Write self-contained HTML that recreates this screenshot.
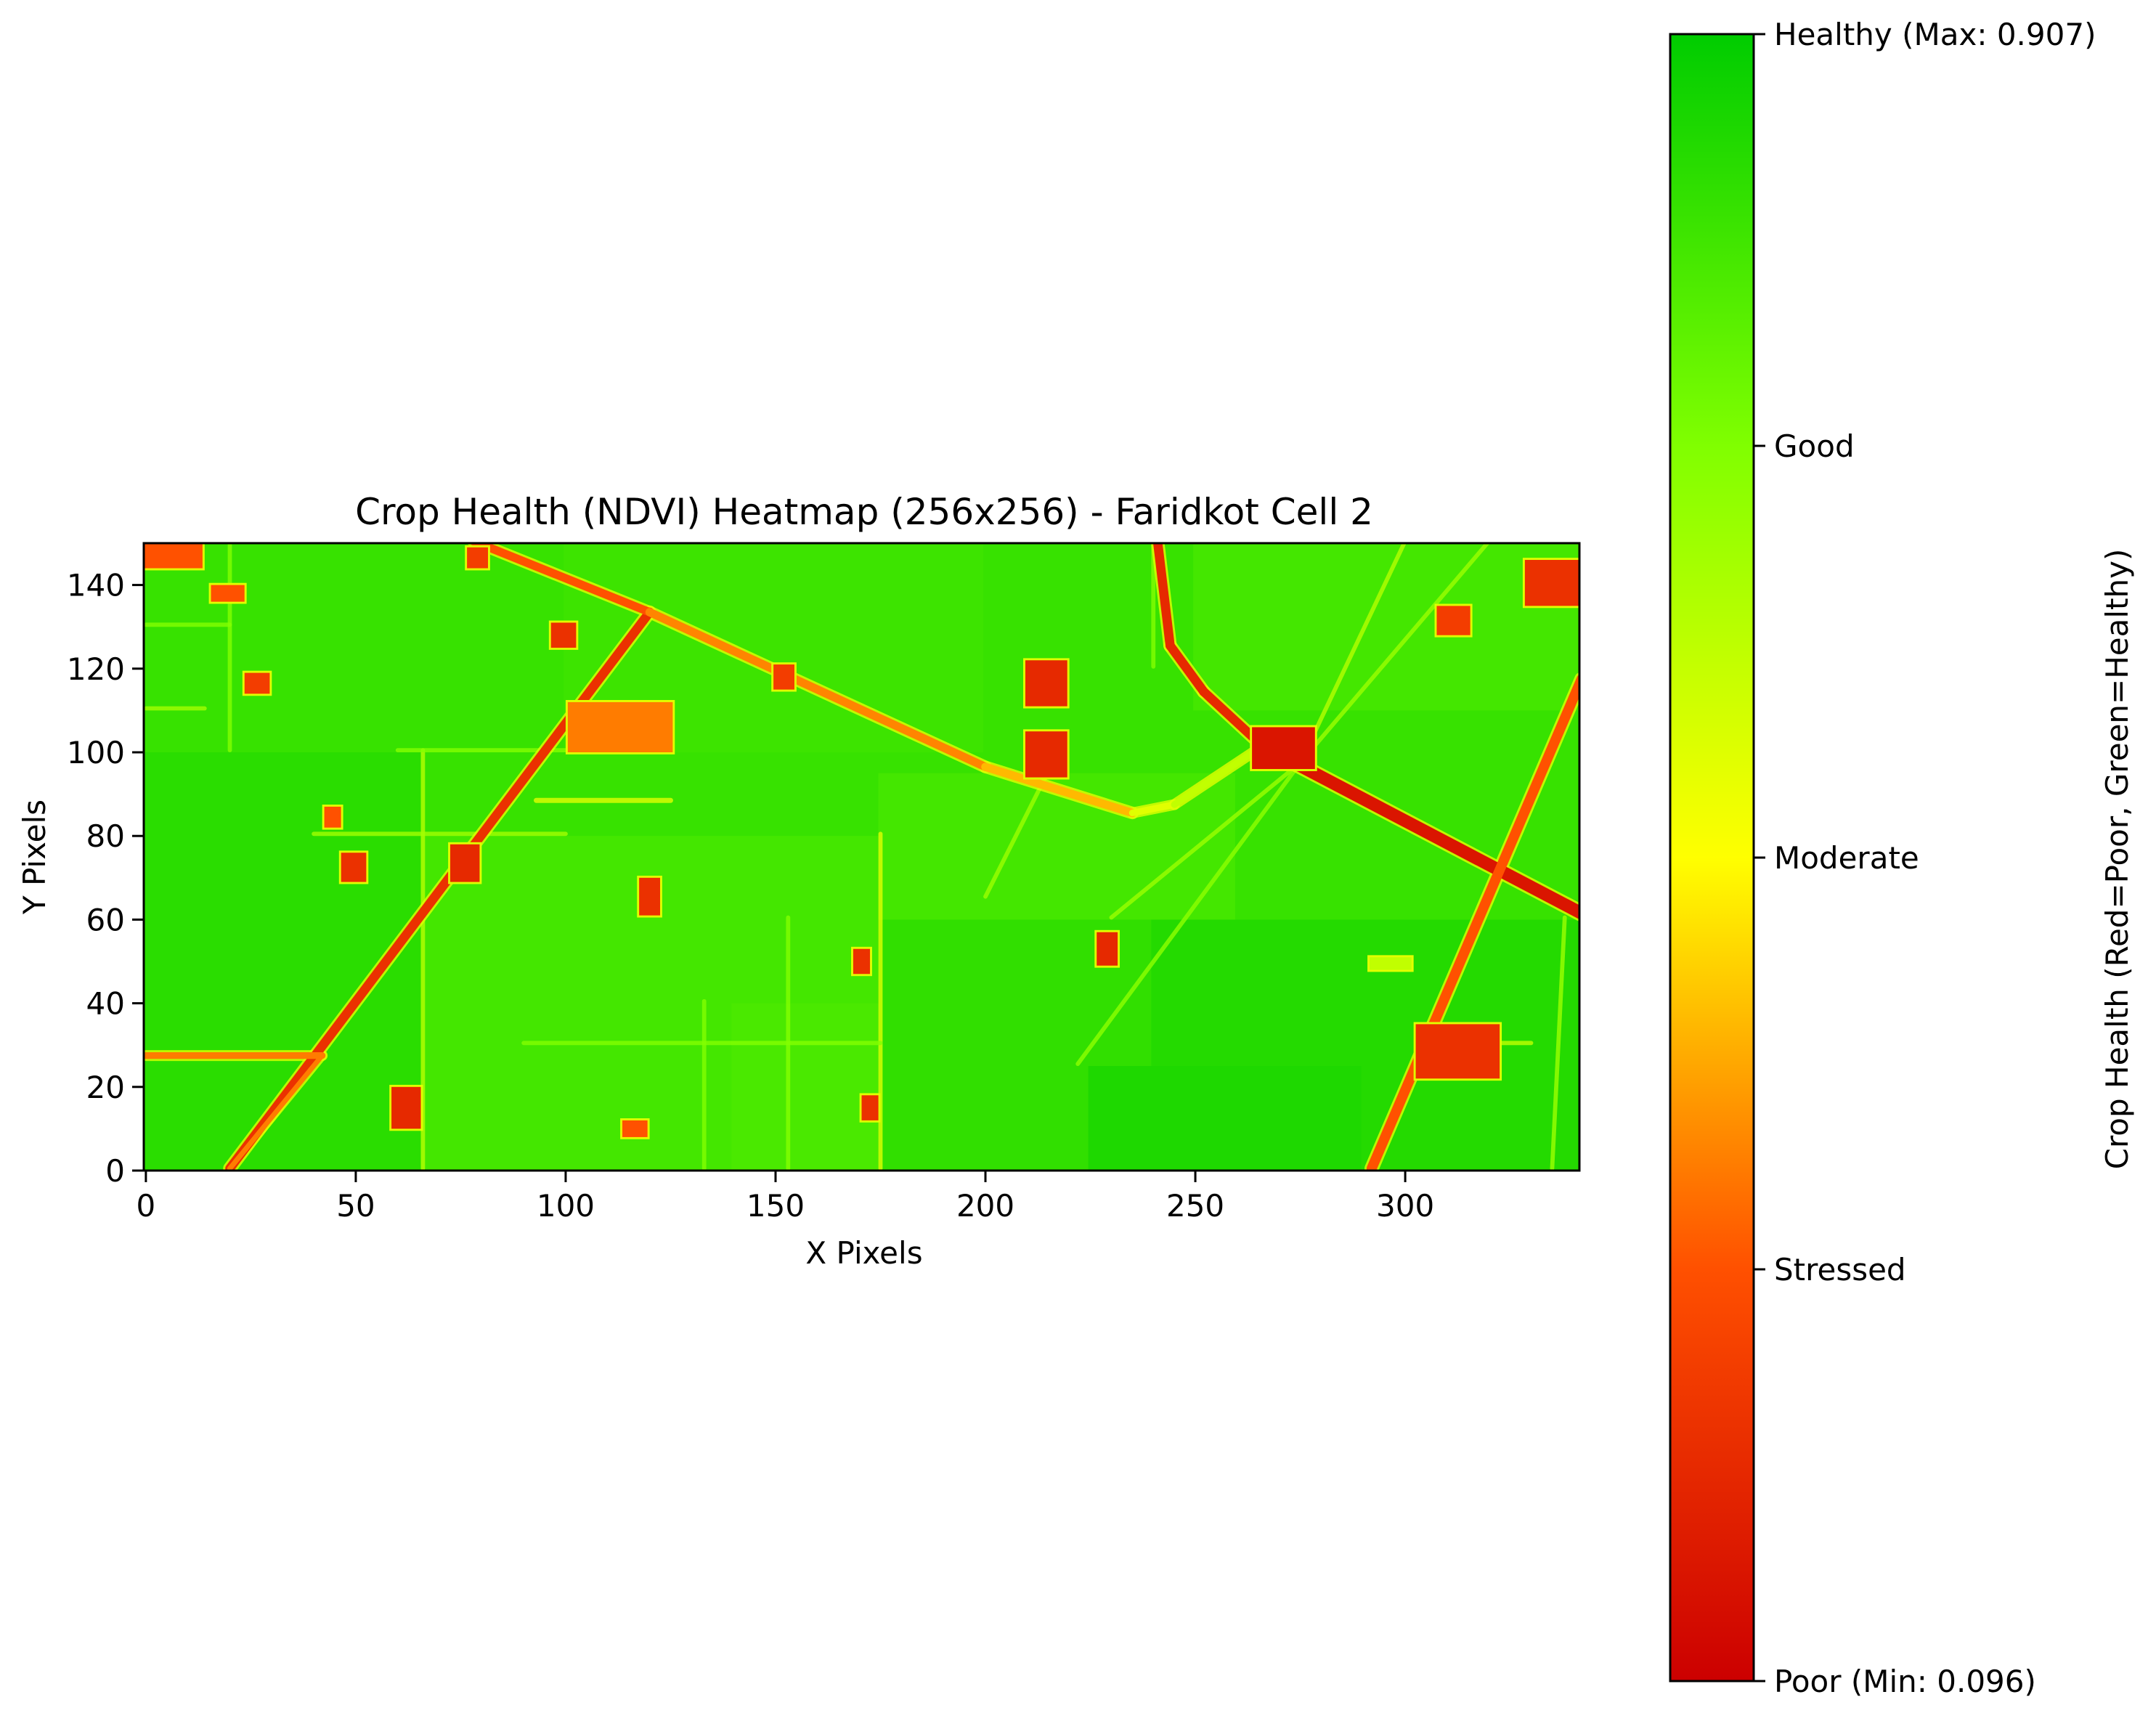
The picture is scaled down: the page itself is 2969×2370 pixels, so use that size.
<!DOCTYPE html>
<html><head><meta charset="utf-8"><title>Crop Health Heatmap</title>
<style>html,body{margin:0;padding:0;background:#fff}svg{display:block}text{font-family:"DejaVu Sans","Liberation Sans",sans-serif;fill:#000}</style>
</head><body>
<svg id="chart" width="2969" height="2370" viewBox="0 0 2969 2370" xmlns="http://www.w3.org/2000/svg">
<defs>
<linearGradient id="cbgrad" x1="0" y1="1" x2="0" y2="0">
<stop offset="0" stop-color="#cc0000"/><stop offset="0.25" stop-color="#ff5000"/><stop offset="0.5" stop-color="#ffff00"/><stop offset="0.75" stop-color="#80ff00"/><stop offset="1" stop-color="#00cc00"/>
</linearGradient>
<clipPath id="plotclip"><rect x="198" y="748" width="1977" height="864"/></clipPath>
</defs>
<text x="1190" y="722" font-size="50" text-anchor="middle">Crop Health (NDVI) Heatmap (256x256) - Faridkot Cell 2</text>
<rect x="198" y="748" width="1977" height="864" fill="#2fd800"/>
<g id="heat" clip-path="url(#plotclip)"></g>
<rect x="198" y="748" width="1977" height="864" fill="none" stroke="#000" stroke-width="3"/>
<g id="xticks"></g>
<g id="yticks"></g>
<text x="1190" y="1740" font-size="42" text-anchor="middle">X Pixels</text>
<text x="0" y="0" font-size="42" text-anchor="middle" transform="translate(62,1180) rotate(-90)">Y Pixels</text>
<rect x="2300" y="47" width="115" height="2268" fill="url(#cbgrad)" stroke="#000" stroke-width="3"/>
<g id="cbticks"></g>
<text x="0" y="0" font-size="42" text-anchor="middle" transform="translate(2930,1183) rotate(-90)">Crop Health (Red=Poor, Green=Healthy)</text>
</svg>
<script>
// ---- data (NDVI values, data coordinates) ----
const vmin = 0.096, vmax = 0.907;
const baseValue = 0.82;
const xTicks = [0, 50, 100, 150, 200, 250, 300];
const yTicks = [0, 20, 40, 60, 80, 100, 120, 140];
const cbLabels = ["Poor (Min: 0.096)", "Stressed", "Moderate", "Good", "Healthy (Max: 0.907)"];
// field patches: [x0, y0, x1, y1, ndvi]
const fields = [
 [0,0,66,100,0.84],[66,0,175,80,0.80],[175,0,240,60,0.83],[240,0,342,60,0.85],
 [100,100,200,150,0.81],[250,110,342,150,0.80],[0,100,100,150,0.82],[175,60,260,95,0.80],
 [225,0,290,25,0.86],[140,0,175,40,0.79],[300,60,342,100,0.82]
];
// thin boundaries: [x0, y0, x1, y1, widthUnits, ndvi]
const lines = [
 [66,0,66,100,1,0.62],[40,80,100,80,1,0.65],[175,0,175,80,1,0.55],[93,88,125,88,1.2,0.55],
 [275,97,230,60,1,0.66],[275,97,222,25,1,0.68],[275,97,300,150,1,0.62],[275,97,320,150,1,0.66],
 [200,65,215,95,1,0.66],[0,130,20,130,1,0.7],[153,0,153,60,1,0.7],[133,0,133,40,1,0.7],
 [0,110,14,110,1,0.65],[240,120,240,150,1,0.7],[20,100,20,150,1,0.7],[310,30,330,30,1,0.6],
 [105,100,60,100,1,0.7],[90,30,175,30,1,0.7],[335,0,338,60,1,0.66]
];
// roads: [x0, y0, x1, y1, widthUnits, ndvi]
const roads = [
 [20,0,120,133,2.2,0.22],[78,150,120,133,2,0.3],[120,133,200,96,2,0.36],[200,96,235,85,2,0.42],
 [235,85,245,87,1.6,0.55],[245,87,266,101,1.6,0.6],[241,150,244,125,2.2,0.2],[244,125,252,114,2.2,0.2],
 [252,114,266,101,2.2,0.2],[266,101,342,61,3,0.15],[292,0,342,117,2.4,0.3],[0,27,42,27,1.6,0.35],
 [42,27,20,0,1.2,0.35]
];
// patches: [x0, y0, x1, y1, ndvi]
const patches = [
 [210,111,220,122,0.2],[210,94,220,105,0.2],[101,100,126,112,0.35],[0,144,14,150,0.3],
 [329,135,342,146,0.22],[303,22,323,35,0.22],[227,49,232,57,0.2],[59,10,66,20,0.2],
 [169,47,173,53,0.22],[118,61,123,70,0.22],[97,125,103,131,0.22],[24,114,30,119,0.25],
 [47,69,53,76,0.22],[73,69,80,78,0.2],[308,128,316,135,0.25],[171,12,175,18,0.22],
 [77,144,82,149,0.25],[150,115,155,121,0.25],[264,96,279,106,0.15],[16,136,24,140,0.3],
 [43,82,47,87,0.3],[114,8,120,12,0.3],[292,48,302,51,0.6]
];
// ---- axis functions ----
const X0=198, Y0=1612, SX=1977/342, SY=864/150;
function sx(x){return X0+(x+0.5)*SX;}
function sy(y){return Y0-(y+0.5)*SY;}
function cmap(v){
 const t=Math.max(0,Math.min(1,(v-vmin)/(vmax-vmin)));
 const st=[[0,[204,0,0]],[0.25,[255,80,0]],[0.5,[255,255,0]],[0.75,[128,255,0]],[1,[0,204,0]]];
 for(let i=0;i<st.length-1;i++){const a=st[i],b=st[i+1];if(t<=b[0]){const f=(t-a[0])/(b[0]-a[0]);
  const c=a[1].map((q,k)=>Math.round(q+(b[1][k]-q)*f));return `rgb(${c[0]},${c[1]},${c[2]})`;}}
 return 'rgb(0,204,0)';
}
const NS='http://www.w3.org/2000/svg';
const heat=document.getElementById('heat');
function rect(x0,y0,x1,y1,v,name){
 const r=document.createElementNS(NS,'rect');
 r.setAttribute('x',sx(x0-0.5));r.setAttribute('y',sy(y1-0.5));
 r.setAttribute('width',(x1-x0)*SX);r.setAttribute('height',(y1-y0)*SY);
 r.setAttribute('fill',cmap(v));
 
 
 heat.appendChild(r);
}
function seg(s,name,op){
 const l=document.createElementNS(NS,'line');
 l.setAttribute('x1',sx(s[0]));l.setAttribute('y1',sy(s[1]));l.setAttribute('x2',sx(s[2]));l.setAttribute('y2',sy(s[3]));
 l.setAttribute('stroke',cmap(s[5]));l.setAttribute('stroke-width',s[4]*SX);l.setAttribute('stroke-linecap','round');
 if(op) l.setAttribute('stroke-opacity',op);
 
 
 heat.appendChild(l);
}
rect(-2,-2,344,152,baseValue,'base-field');
fields.forEach(f=>rect(f[0],f[1],f[2],f[3],f[4],'field-patch'));
lines.forEach(s=>seg(s,'field-boundary',0.8));
roads.forEach(s=>{
 seg([s[0],s[1],s[2],s[3],s[4]+1.0,0.55],'road-edge',0.8);
});
roads.forEach(s=>seg(s,'road'));
patches.forEach(p=>{
 rect(p[0]-0.5,p[1]-0.5,p[2]+0.5,p[3]+0.5,0.55,'patch-edge');
 rect(p[0],p[1],p[2],p[3],p[4],'stressed-patch');
});
// ---- ticks ----
const xt=document.getElementById('xticks');
xTicks.forEach(v=>{
 const l=document.createElementNS(NS,'line');
 l.setAttribute('x1',sx(v));l.setAttribute('x2',sx(v));l.setAttribute('y1',1612);l.setAttribute('y2',1628);
 l.setAttribute('stroke','#000');l.setAttribute('stroke-width',3);
 
 
 xt.appendChild(l);
 const t=document.createElementNS(NS,'text');
 t.setAttribute('x',sx(v));t.setAttribute('y',1675);t.setAttribute('font-size',42);t.setAttribute('text-anchor','middle');
 t.textContent=v;
 
 
 xt.appendChild(t);
});
const yt=document.getElementById('yticks');
yTicks.forEach(v=>{
 const l=document.createElementNS(NS,'line');
 l.setAttribute('x1',182);l.setAttribute('x2',198);l.setAttribute('y1',sy(v)+SY/2);l.setAttribute('y2',sy(v)+SY/2);
 l.setAttribute('stroke','#000');l.setAttribute('stroke-width',3);
 
 
 yt.appendChild(l);
 const t=document.createElementNS(NS,'text');
 t.setAttribute('x',172);t.setAttribute('y',sy(v)+SY/2+15);t.setAttribute('font-size',42);t.setAttribute('text-anchor','end');
 t.textContent=v;
 
 
 yt.appendChild(t);
});
const cb=document.getElementById('cbticks');
cbLabels.forEach((lab,i)=>{
 const y=2315-i*(2268/4);
 const l=document.createElementNS(NS,'line');
 l.setAttribute('x1',2415);l.setAttribute('x2',2431);l.setAttribute('y1',y);l.setAttribute('y2',y);
 l.setAttribute('stroke','#000');l.setAttribute('stroke-width',3);
 
 
 cb.appendChild(l);
 const t=document.createElementNS(NS,'text');
 t.setAttribute('x',2443);t.setAttribute('y',y+15);t.setAttribute('font-size',42);
 t.textContent=lab;
 
 
 cb.appendChild(t);
});
</script>
</body></html>
